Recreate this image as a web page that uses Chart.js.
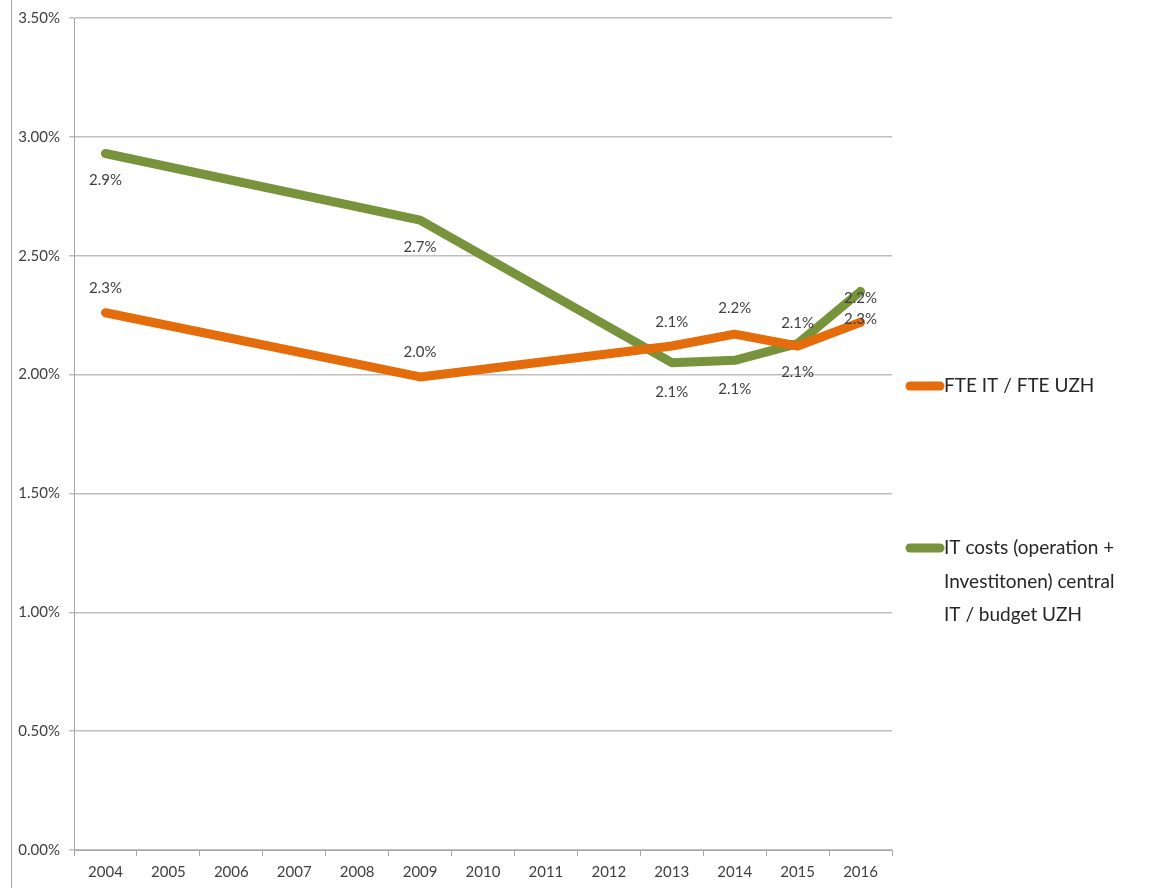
<!DOCTYPE html>
<html>
<head>
<meta charset="utf-8">
<script src="https://cdn.jsdelivr.net/npm/chart.js@4"></script>
<style>
  html, body { margin: 0; padding: 0; background: #fff; }
  #wrap { width: 1149px; height: 888px; position: relative; }
</style>
</head>
<body>
<div id="wrap"><canvas id="chart" width="1149" height="888"></canvas></div>
<script>
// Years on the x axis
const years = ['2004', '2005', '2006', '2007', '2008', '2009', '2010', '2011', '2012', '2013', '2014', '2015', '2016'];

// Values in percent (only the labelled years carry data)
const fteValues  = [2.26, null, null, null, null, 1.99, null, null, null, 2.12, 2.17, 2.12, 2.22];
const costValues = [2.93, null, null, null, null, 2.65, null, null, null, 2.05, 2.06, 2.13, 2.35];

// Data label texts as printed on the chart
const fteLabels  = ['2.3%', null, null, null, null, '2.0%', null, null, null, '2.1%', '2.2%', '2.1%', '2.3%'];
const costLabels = ['2.9%', null, null, null, null, '2.7%', null, null, null, '2.1%', '2.1%', '2.1%', '2.2%'];

// Y axis ticks
const yMin = 0;
const yMax = 3.5;
const yStep = 0.5;

const seriesNames = ['FTE IT / FTE UZH', ['IT costs (operation +', 'Investitonen) central', 'IT / budget UZH']];

const FONT = 'Lato, "Open Sans", sans-serif';
const TEXT_COLOR = '#404040';
const ORANGE = '#E46C0A';
const GREEN = '#77933C';

// Label placement offsets (px, relative to the point)
const labelOffsets = [
  [-25, 0, 0, 0, 0, -25, 0, 0, 0, -24, -26, -23, -3],
  [27, 0, 0, 0, 0, 27, 0, 0, 0, 29, 29, 28, 7]
];

const dataLabelPlugin = {
  id: 'dataLabels',
  afterDatasetsDraw(chart) {
    const { ctx } = chart;
    ctx.save();
    ctx.font = '15px ' + FONT;
    ctx.fillStyle = TEXT_COLOR;
    ctx.textAlign = 'center';
    ctx.textBaseline = 'middle';
    chart.data.datasets.forEach((ds, i) => {
      const meta = chart.getDatasetMeta(i);
      meta.data.forEach((pt, j) => {
        const text = ds.labelTexts[j];
        if (!text || ds.data[j] == null) return;
        ctx.fillText(text, pt.x, pt.y + labelOffsets[i][j]);
      });
    });
    ctx.restore();
  }
};

const sideLegendPlugin = {
  id: 'sideLegend',
  afterDraw(chart) {
    const { ctx, chartArea } = chart;
    ctx.save();
    // frame line on the far left
    ctx.strokeStyle = '#a6a6a6';
    ctx.lineWidth = 1;
    ctx.beginPath();
    ctx.moveTo(11.5, 0);
    ctx.lineTo(11.5, chart.height);
    ctx.stroke();

    const x0 = chartArea.right + 14;
    const entries = [
      { color: ORANGE, y: 386, lines: [seriesNames[0]] },
      { color: GREEN, y: 548, lines: seriesNames[1] }
    ];
    ctx.font = '19px ' + FONT;
    ctx.fillStyle = '#262626';
    ctx.textAlign = 'left';
    ctx.textBaseline = 'middle';
    entries.forEach(e => {
      ctx.strokeStyle = e.color;
      ctx.lineWidth = 9;
      ctx.lineCap = 'round';
      ctx.beginPath();
      ctx.moveTo(x0 + 4, e.y);
      ctx.lineTo(x0 + 34, e.y);
      ctx.stroke();
      e.lines.forEach((line, k) => {
        ctx.fillText(line, x0 + 38, e.y + k * 33.5);
      });
    });
    ctx.restore();
  }
};

const lineStyle = {
  borderWidth: 9,
  pointRadius: 0,
  pointHoverRadius: 0,
  tension: 0,
  spanGaps: true,
  borderCapStyle: 'round',
  borderJoinStyle: 'round',
  fill: false
};

new Chart(document.getElementById('chart'), {
  type: 'line',
  data: {
    labels: years,
    datasets: [
      { label: seriesNames[0], data: fteValues, labelTexts: fteLabels, borderColor: ORANGE, backgroundColor: ORANGE, ...lineStyle },
      { label: seriesNames[1].join(' '), data: costValues, labelTexts: costLabels, borderColor: GREEN, backgroundColor: GREEN, ...lineStyle }
    ]
  },
  options: {
    responsive: false,
    animation: false,
    layout: { padding: { left: 0, right: 257, top: 15, bottom: 0 } },
    plugins: {
      legend: { display: false },
      tooltip: { enabled: false }
    },
    scales: {
      x: {
        offset: true,
        grid: {
          offset: true,
          drawOnChartArea: false,
          drawTicks: true,
          tickLength: 6,
          color: '#a6a6a6'
        },
        border: { display: true, color: '#a6a6a6', width: 1 },
        ticks: {
          color: TEXT_COLOR,
          font: { family: FONT, size: 15 },
          padding: 7,
          maxRotation: 0,
          autoSkip: false
        },
        afterFit(scale) { scale.height = 38; }
      },
      y: {
        min: yMin,
        max: yMax,
        grid: {
          color: '#bfbfbf',
          lineWidth: 1.5,
          tickLength: 5
        },
        border: { display: true, color: '#a6a6a6', width: 1 },
        ticks: {
          stepSize: yStep,
          color: TEXT_COLOR,
          font: { family: FONT, size: 15 },
          padding: 9,
          callback: v => v.toFixed(2) + '%'
        },
        afterFit(scale) { scale.width = 74; }
      }
    }
  },
  plugins: [dataLabelPlugin, sideLegendPlugin]
});
</script>
</body>
</html>
